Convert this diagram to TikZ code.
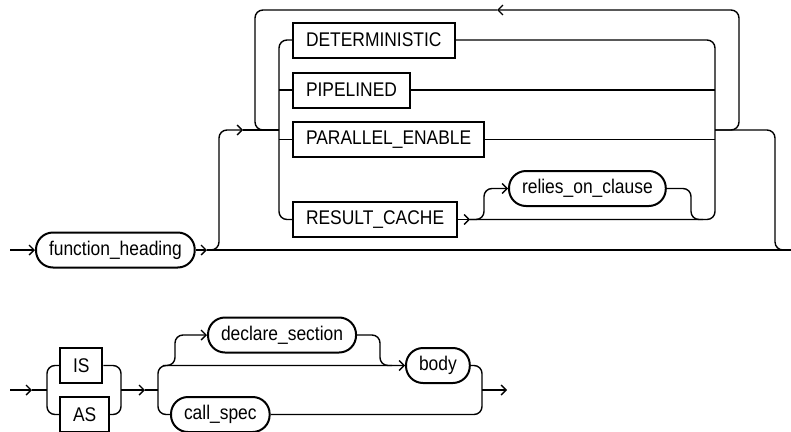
\documentclass[tikz,border=0pt]{standalone}
\usepackage{fontspec}
\setmainfont{Liberation Sans}[FakeStretch=0.88]
\usetikzlibrary{arrows.meta}

\begin{document}
\begin{tikzpicture}[
    x=1pt, y=-1pt,
    line width=1.4pt,
    font=\fontsize{19.8}{22}\selectfont,
    kw/.style={draw, line width=2pt, minimum height=35pt, inner xsep=13pt, anchor=west},
    nt/.style={draw, line width=2pt, rounded corners=17pt, minimum height=35pt, inner xsep=13pt, anchor=west},
    rail/.style={rounded corners=8pt},
    >={Straight Barb[length=5pt,width=10pt]}
    ]
    \useasboundingbox (0,0) rectangle (791,431);

    % function heading with its options
    \node[nt] (fh) at (35,250) {function\_heading};
    \node[kw] (det) at (292,40) {DETERMINISTIC};
    \node[kw] (pip) at (292,90) {PIPELINED};
    \node[kw] (pe) at (292,139.5) {PARALLEL\_ENABLE};
    \node[kw] (rc) at (292,219.5) {RESULT\_CACHE};
    \node[nt] (roc) at (508,188.5) {relies\_on\_clause};

    \coordinate (in1) at (10,250);
    \coordinate (fhout) at (207,250);
    \coordinate (out1) at (791,250);
    \coordinate (upin) at (243,130);
    \coordinate (lb) at (279,130);
    \coordinate (rb) at (715,130);
    \coordinate (back) at (497,10);
    \coordinate (rcout) at (470,219.5);

    \draw[->] (in1) -- (fh.west);
    \draw[->] (fh.east) -- (fhout);
    \draw (fhout) -- (out1);
    \draw[rail,->] (fhout) -| (219,130) -- (upin);
    \draw (upin) -- (lb);

    \draw[rail] (det.west) -| (lb) |- (rc.west);
    \draw (pip.west -| lb) -- (pip.west);
    \draw (pe.west -| lb) -- (pe.west);

    \draw[rail] (det.east) -| (rb) |- (rcout);
    \draw (pip.east) -- (pip.east -| rb);
    \draw (pe.east) -- (pe.east -| rb);
    \draw[->] (rc.east) -- (rcout);
    \draw[rail,->] (rcout) -| (484,188.5) -- (roc.west);
    \draw[rail] (roc.east) -| (691,219.5) -- (703,219.5);

    % repeat loop and exit
    \draw[rail,->] (rb) -| (739,10) -- (back);
    \draw[rail] (back) -| (255,130) -- (lb);
    \draw[rail] (rb) -| (775,250) -- (out1);

    % IS / AS part
    \node[kw] (is) at (59,365.5) {IS};
    \node[kw] (as) at (59,414.5) {AS};
    \node[nt] (ds) at (207,335) {declare\_section};
    \node[nt] (body) at (405,365.5) {body};
    \node[nt] (cs) at (170,414.5) {call\_spec};

    \coordinate (in2) at (10,390);
    \coordinate (arr2) at (32,390);
    \coordinate (lb2) at (47,390);
    \coordinate (rb2) at (121,390);
    \coordinate (mid2) at (145,390);
    \coordinate (sp2) at (158,390);
    \coordinate (out2) at (507,390);

    \draw[->] (in2) -- (arr2);
    \draw (arr2) -- (lb2);
    \draw[rail] (is.west) -| (lb2) |- (as.west);
    \draw[rail] (is.east) -| (rb2) |- (as.east);
    \draw[->] (rb2) -- (mid2);
    \draw (mid2) -- (sp2);
    \draw[rail,->] (cs.west) -| (sp2 |- body.west) -- (body.west);
    \draw[rail,->] (163,365.5) -| (175,335) -- (ds.west);
    \draw[rail] (ds.east) -| (380,365.5) -- (392,365.5);
    \draw[rail] (body.east) -| (482,390) |- (cs.east);
    \draw[->] (482,390) -- (out2);
\end{tikzpicture}
\end{document}
